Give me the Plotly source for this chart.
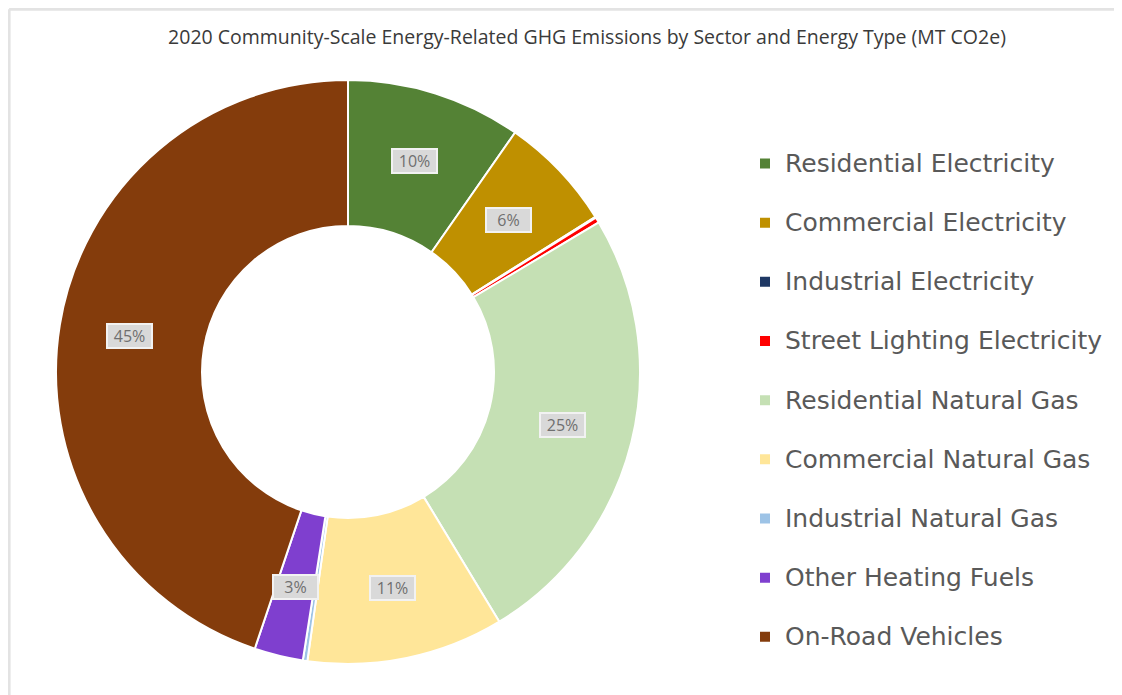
import plotly.graph_objects as go
import math

categories = [
    "Residential Electricity",
    "Commercial Electricity",
    "Industrial Electricity",
    "Street Lighting Electricity",
    "Residential Natural Gas",
    "Commercial Natural Gas",
    "Industrial Natural Gas",
    "Other Heating Fuels",
    "On-Road Vehicles",
]
shares = [9.7, 6.4, 0.05, 0.3, 24.9, 10.9, 0.25, 2.7, 44.85]
colors = ["#548235", "#bf9000", "#1f3864", "#ff0000", "#c5e0b4",
          "#ffe699", "#9dc3e6", "#7f3fcf", "#843c0c"]
title_text = "2020 Community-Scale Energy-Related GHG Emissions by Sector and Energy Type (MT CO2e)"

OFF = 8  # page body margin
W, H = 1122 - OFF, 695 - OFF
CX, CY, R = 348 - OFF, 372 - OFF, 292
dom_x = [(CX - R) / W, (CX + R) / W]
dom_y = [(H - CY - R) / H, (H - CY + R) / H]
hole = 0.5

legend_labels = ['<span style="font-size:25px">' + c + '</span><br> ' for c in categories]

fig = go.Figure(go.Pie(
    labels=legend_labels,
    values=shares,
    sort=False,
    direction="clockwise",
    rotation=0,
    hole=hole,
    marker=dict(colors=colors, line=dict(color="white", width=2)),
    textinfo="none",
    domain=dict(x=dom_x, y=dom_y),
    customdata=categories,
    hovertemplate="%{customdata}: %{percent}<extra></extra>",
))

# percent labels with grey boxes placed at slice mid-angles (computed from data)
total = sum(shares)
cx = (dom_x[0] + dom_x[1]) / 2 * W
cy = (1 - (dom_y[0] + dom_y[1]) / 2) * H
r_out = min((dom_x[1] - dom_x[0]) * W, (dom_y[1] - dom_y[0]) * H) / 2
r_mid = r_out * (1 + hole) / 2 + 2
cum = 0.0
for v in shares:
    frac = v / total
    mid = (cum + frac / 2) * 2 * math.pi
    cum += frac
    pct = round(frac * 100)
    if pct < 1:
        continue
    px = cx + r_mid * math.sin(mid)
    py = cy - r_mid * math.cos(mid)
    fig.add_annotation(
        x=px / W, y=1 - py / H, xref="paper", yref="paper",
        xanchor="center", yanchor="middle",
        text=f"{pct}%", showarrow=False,
        font=dict(family="Open Sans, sans-serif", size=16, color="#6f6f6f"),
        bgcolor="#d9d9d9", bordercolor="#f2f2f2", borderwidth=2, borderpad=0,
        width=43, height=22,
    )

# thin frame lines (top and left)
fig.add_shape(type="line", xref="paper", yref="paper", x0=0.001, x1=1, y0=0.998, y1=0.998,
              line=dict(color="#e3e3e3", width=3))
fig.add_shape(type="line", xref="paper", yref="paper", x0=0.001, x1=0.001, y0=0, y1=0.998,
              line=dict(color="#e3e3e3", width=3))

fig.update_layout(
    width=W, height=H,
    margin=dict(l=0, r=0, t=0, b=0),
    paper_bgcolor="white",
    plot_bgcolor="white",
    title=dict(text=title_text, x=(587 - OFF) / W, xanchor="center",
               y=1 - (37 - OFF) / H, yanchor="middle",
               font=dict(family="Open Sans, sans-serif", size=19.5, color="#3a3a3a")),
    legend=dict(
        x=(745 - OFF) / W, xanchor="left", y=1 - (143 - OFF) / H, yanchor="top",
        valign="top",
        font=dict(family="DejaVu Sans, sans-serif", size=21.6, color="#595959"),
        bgcolor="rgba(0,0,0,0)",
    ),
    showlegend=True,
)

fig.write_html("out.html")
